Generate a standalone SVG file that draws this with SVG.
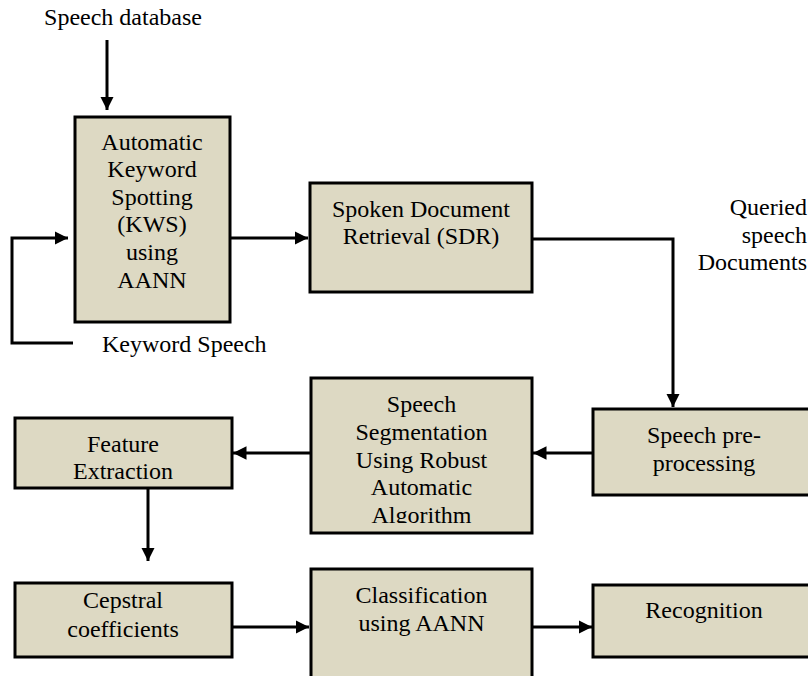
<svg xmlns="http://www.w3.org/2000/svg" width="808" height="676" viewBox="0 0 808 676">
<style>
.box{fill:#DDD9C3;stroke:#000;stroke-width:3}
.t{font-family:"Liberation Serif","Times New Roman",serif;font-size:24px;fill:#000;text-anchor:middle}
.c{fill:none;stroke:#000;stroke-width:3}
</style>
<defs>
<marker id="ah" viewBox="0 0 10 10" refX="10" refY="5" markerWidth="4.5" markerHeight="4.5" orient="auto" markerUnits="strokeWidth">
<path d="M0,0 L10,5 L0,10 z" fill="#000"/>
</marker>
<clipPath id="segclip"><rect x="312" y="379" width="219" height="144"/></clipPath>
</defs>
<rect width="808" height="676" fill="#fff"/>

<g id="labels">
<text class="t" x="123" y="25">Speech database</text>
<text class="t" x="102" y="352" style="text-anchor:start">Keyword Speech</text>
<text class="t" x="807" y="215" style="text-anchor:end">Queried</text>
<text class="t" x="807" y="243" style="text-anchor:end">speech</text>
<text class="t" x="807" y="270" style="text-anchor:end">Documents</text>
</g>

<g id="kws">
<rect class="box" x="75" y="117" width="155" height="205"/>
<text class="t" x="152" y="150">Automatic</text>
<text class="t" x="152" y="177">Keyword</text>
<text class="t" x="152" y="205">Spotting</text>
<text class="t" x="152" y="232">(KWS)</text>
<text class="t" x="152" y="260">using</text>
<text class="t" x="152" y="288">AANN</text>
</g>

<g id="sdr">
<rect class="box" x="310" y="183" width="222" height="109"/>
<text class="t" x="421" y="217">Spoken Document</text>
<text class="t" x="421" y="244">Retrieval (SDR)</text>
</g>

<g id="preproc">
<rect class="box" x="593" y="409" width="224" height="86"/>
<text class="t" x="704" y="443">Speech pre-</text>
<text class="t" x="704" y="471">processing</text>
</g>

<g id="segmentation">
<rect class="box" x="311" y="378" width="221" height="155"/>
<g clip-path="url(#segclip)">
<text class="t" x="421.5" y="412">Speech</text>
<text class="t" x="421.5" y="440">Segmentation</text>
<text class="t" x="421.5" y="468">Using Robust</text>
<text class="t" x="421.5" y="495">Automatic</text>
<text class="t" x="421.5" y="523">Algorithm</text>
</g>
</g>

<g id="feature">
<rect class="box" x="15" y="418" width="217" height="70"/>
<text class="t" x="123" y="452">Feature</text>
<text class="t" x="123" y="479">Extraction</text>
</g>

<g id="cepstral">
<rect class="box" x="15" y="583" width="217" height="74"/>
<text class="t" x="123" y="608">Cepstral</text>
<text class="t" x="123" y="637">coefficients</text>
</g>

<g id="classification">
<rect class="box" x="311" y="569" width="221" height="120"/>
<text class="t" x="421.5" y="603">Classification</text>
<text class="t" x="421.5" y="631">using AANN</text>
</g>

<g id="recognition">
<rect class="box" x="593" y="585" width="224" height="72"/>
<text class="t" x="704" y="618">Recognition</text>
</g>

<g id="connectors">
<path class="c" d="M107,40 V110" marker-end="url(#ah)"/>
<path class="c" d="M73,343 H12 V238 H68" marker-end="url(#ah)"/>
<path class="c" d="M230,238 H308" marker-end="url(#ah)"/>
<path class="c" d="M532,239 H673 V407" marker-end="url(#ah)"/>
<path class="c" d="M593,453 H533" marker-end="url(#ah)"/>
<path class="c" d="M311,453 H233" marker-end="url(#ah)"/>
<path class="c" d="M148,488 V561" marker-end="url(#ah)"/>
<path class="c" d="M232,627 H309" marker-end="url(#ah)"/>
<path class="c" d="M532,627 H592" marker-end="url(#ah)"/>
</g>
</svg>
